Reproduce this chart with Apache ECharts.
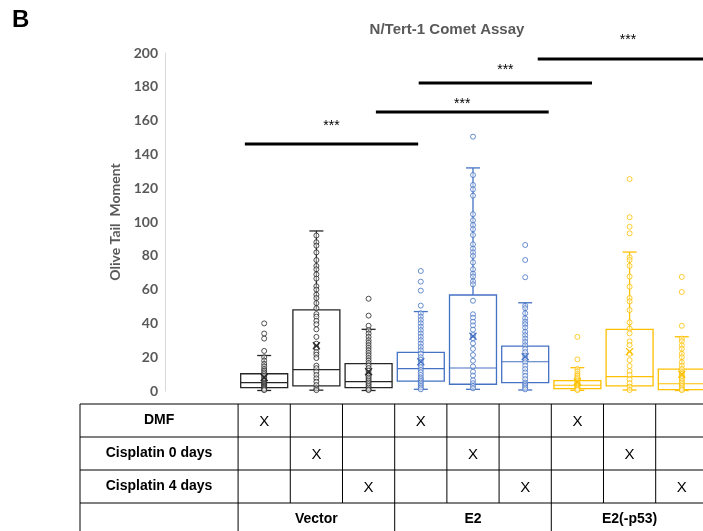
<!DOCTYPE html>
<html>
<head>
<meta charset="utf-8">
<script src="https://cdn.jsdelivr.net/npm/echarts@6/dist/echarts.min.js"></script>
<style>
html, body { margin: 0; padding: 0; background: #fff; }
#chart { width: 703px; height: 531px; }
</style>
</head>
<body>
<div id="chart"></div>
<script>
// one box per column of the table below
const groups = ['Vector', 'E2', 'E2(-p53)']
const treatments = ['DMF', 'Cisplatin 0 days', 'Cisplatin 4 days']
const boxGroup = [0, 0, 0, 1, 1, 1, 2, 2, 2]
const boxTreatment = [0, 1, 2, 0, 1, 2, 0, 1, 2]

const whiskerLow = [0.3, 0.5, 0.3, 1, 1, 0.6, 0.4, 0.6, 0.3]
const q1 = [2, 3, 2, 5.9, 4, 4.9, 1.4, 3, 0.8]
const median = [5, 12.6, 5.5, 13.2, 13.6, 17.3, 3.4, 8.5, 4.3]
const q3 = [10.2, 48, 16.2, 22.9, 56.8, 26.6, 6.1, 36.5, 13]
const whiskerHigh = [21, 94.7, 36.5, 47, 132, 52.2, 13.8, 82.2, 32.1]
const means = [8, 26.8, 11.4, 17.3, 32.4, 20.3, 5.5, 23.3, 9.9]

const ptsVectorDMF = [40, 34, 31, 23.7, 20, 18, 16, 14.5, 13, 12, 11, 10, 9, 8, 7, 6, 5, 4.5, 4, 3.5, 3, 2.5, 2, 1.5, 1, 0.5]
const ptsVectorCis0 = [92, 88, 86, 82, 77.5, 74, 72, 69, 66.5, 62, 60, 57, 55, 52, 49, 45.5, 44, 41.5, 39.5, 36.5, 32, 28, 25.5, 23, 21.5, 19.5, 15, 13.5, 11.5, 9.5, 7.5, 5.5, 3.5, 1.5, 0.5]
const ptsVectorCis4 = [54.6, 44.6, 38.6, 36, 34, 32, 30, 28.5, 27, 25.5, 24, 22.5, 21, 19.5, 18, 16.5, 15, 13.5, 12, 10.5, 9, 8, 7, 6, 5, 4, 3, 2, 1, 0.5]
const ptsE2DMF = [71, 64.7, 59.4, 50.5, 46, 44, 42, 40, 38, 36, 34, 32, 30, 28, 26, 24, 22, 20, 18.5, 17, 15.5, 14, 12.5, 11, 9.5, 8, 7, 6, 5, 4, 3, 2, 1]
const ptsE2Cis0 = [150.5, 127.8, 121.9, 119.3, 115.6, 104.6, 101, 98.2, 95.7, 92.3, 86.8, 84.2, 82, 79.9, 76.1, 72, 69.4, 67.7, 64.9, 63.1, 53.4, 45.4, 43.4, 41, 38.8, 36.3, 33.1, 31.2, 28.2, 24.9, 21.3, 17.9, 14.5, 11.4, 9.1, 6.3, 4.6, 3, 1.6]
const ptsE2Cis4 = [86.4, 77.5, 67.3, 50.5, 49, 46, 43, 41, 39.5, 37.5, 35, 33, 31, 29, 27, 25, 23, 21, 19, 17, 15, 13, 11, 9, 7, 5, 4, 3, 2, 1]
const ptsP53DMF = [32, 18.7, 13, 11.5, 10, 9, 8, 7, 6, 5, 4.5, 4, 3.5, 3, 2.5, 2, 1.5, 1, 0.5]
const ptsP53Cis0 = [125.4, 102.8, 97.2, 93.3, 79.1, 77.5, 74, 67.7, 61.7, 55, 53, 47.9, 40.6, 36.9, 34.1, 29.4, 27.2, 22, 18.3, 14.8, 11.8, 9.5, 6.9, 4.6, 2.5, 0.6]
const ptsP53Cis4 = [67.5, 58.6, 38.6, 31, 29.5, 27, 25, 22, 20, 17, 15, 13, 11, 10, 9, 8, 7, 6, 5, 4, 3, 2, 1, 0.5]
const allPoints = [ptsVectorDMF, ptsVectorCis0, ptsVectorCis4, ptsE2DMF, ptsE2Cis0, ptsE2Cis4, ptsP53DMF, ptsP53Cis0, ptsP53Cis4]

// significance bars (x in box positions, y in axis units)
const sigFrom = [0.63, 3.14, 3.96, 6.24]
const sigTo = [3.95, 6.45, 7.28, 9.7]
const sigLineY = [146.2, 165.1, 182.2, 196.4]
const sigStarY = [156.5, 169.5, 190, 207.5]
const sigLabel = '***'

const groupColors = ['#262626', '#4472C4', '#FFC000']

const chart = echarts.init(document.getElementById('chart'))

function renderBox(params, api) {
    const x = api.value(0)
    const color = groupColors[api.value(6)]
    const hw = api.size([1, 0])[0] * 0.45
    const cap = 7
    const lo = api.coord([x, api.value(1)])
    const b1 = api.coord([x, api.value(2)])
    const md = api.coord([x, api.value(3)])
    const b3 = api.coord([x, api.value(4)])
    const hi = api.coord([x, api.value(5)])
    const cx = lo[0]
    const ls = { stroke: color, lineWidth: 1.3 }
    return {
        type: 'group',
        children: [
            { type: 'line', shape: { x1: cx, y1: b3[1], x2: cx, y2: hi[1] }, style: ls },
            { type: 'line', shape: { x1: cx - cap, y1: hi[1], x2: cx + cap, y2: hi[1] }, style: ls },
            { type: 'line', shape: { x1: cx, y1: b1[1], x2: cx, y2: lo[1] }, style: ls },
            { type: 'line', shape: { x1: cx - cap, y1: lo[1], x2: cx + cap, y2: lo[1] }, style: ls },
            { type: 'rect', shape: { x: cx - hw, y: b3[1], width: hw * 2, height: b1[1] - b3[1] }, style: { stroke: color, lineWidth: 1.3, fill: 'none' } },
            { type: 'line', shape: { x1: cx - hw, y1: md[1], x2: cx + hw, y2: md[1] }, style: { stroke: color, lineWidth: 1.2 } }
        ]
    }
}

function renderMean(params, api) {
    const p = api.coord([api.value(0), api.value(1)])
    const color = groupColors[api.value(2)]
    const s = 3.5
    return {
        type: 'group',
        children: [
            { type: 'line', shape: { x1: p[0] - s, y1: p[1] - s, x2: p[0] + s, y2: p[1] + s }, style: { stroke: color, lineWidth: 1.3 } },
            { type: 'line', shape: { x1: p[0] - s, y1: p[1] + s, x2: p[0] + s, y2: p[1] - s }, style: { stroke: color, lineWidth: 1.3 } }
        ]
    }
}

function renderSig(params, api) {
    const a = api.coord([api.value(0), api.value(2)])
    const b = api.coord([api.value(1), api.value(2)])
    const t = api.coord([(api.value(0) + api.value(1)) / 2, api.value(3)])
    return {
        type: 'group',
        children: [
            { type: 'line', shape: { x1: a[0], y1: a[1], x2: b[0], y2: b[1] }, style: { stroke: '#000', lineWidth: 3 } },
            { type: 'text', style: { text: sigLabel, x: t[0], y: t[1], align: 'center', verticalAlign: 'middle', font: '14px "Liberation Sans", Arial', fill: '#000' } }
        ]
    }
}

const boxData = q1.map((v, i) => [i + 1, whiskerLow[i], v, median[i], q3[i], whiskerHigh[i], boxGroup[i]])
const meanData = means.map((v, i) => [i + 1, v, boxGroup[i]])
const sigData = sigFrom.map((v, i) => [v, sigTo[i], sigLineY[i], sigStarY[i]])

const scatterSeries = allPoints.map((pts, i) => ({
    type: 'scatter',
    z: 3,
    symbol: 'circle',
    symbolSize: 5,
    itemStyle: { color: 'rgba(255,255,255,0.6)', borderColor: groupColors[boxGroup[i]], borderWidth: 1 },
    data: pts.map(v => [i + 1, v])
}))

const option = {
    animation: false,
    title: {
        text: 'N/Tert-1 Comet Assay',
        left: 442,
        top: 17,
        textAlign: 'center',
        textStyle: { color: '#595959', fontSize: 15, fontWeight: 'bold', fontFamily: '"Liberation Sans", Arial' }
    },
    grid: { left: 165, top: 53, height: 338, width: 569, containLabel: false, outerBoundsMode: 'none' },
    xAxis: { type: 'value', min: -0.9, max: 10, show: false },
    yAxis: {
        type: 'value',
        min: 0,
        max: 200,
        interval: 20,
        name: 'Olive Tail  Moment',
        nameLocation: 'middle',
        nameGap: 40,
        nameTextStyle: { color: '#595959', fontSize: 14, fontWeight: 'bold', fontFamily: 'Lato' },
        axisLine: { show: true, onZero: false, lineStyle: { color: '#d9d9d9', width: 1 } },
        axisTick: { show: false },
        splitLine: { show: false },
        axisLabel: { margin: 7, color: '#595959', fontSize: 14, fontWeight: 'bold', fontFamily: 'Lato' }
    },
    series: [
        { type: 'custom', z: 2, renderItem: renderBox, data: boxData },
        ...scatterSeries,
        { type: 'custom', z: 4, renderItem: renderMean, data: meanData },
        { type: 'custom', z: 5, clip: false, renderItem: renderSig, data: sigData }
    ]
}

chart.setOption(option)

// table under the plot, columns follow the x axis
const xAt = v => chart.convertToPixel({ xAxisIndex: 0 }, v)
const tableLeft = 80
const tableRight = 720
const labelRight = xAt(0.5)
const rowY = [404, 437, 470, 503, 545]
const lineStyle = { stroke: '#000', lineWidth: 1 }
const graphics = []
const hline = (x1, x2, y) => graphics.push({ type: 'line', shape: { x1, y1: y, x2, y2: y }, style: lineStyle })
const vline = (x, y1, y2) => graphics.push({ type: 'line', shape: { x1: x, y1, x2: x, y2 }, style: lineStyle })
const label = (text, x, y, font) => graphics.push({ type: 'text', style: { text, x, y, align: 'center', verticalAlign: 'middle', font, fill: '#000' } })

rowY.slice(0, 4).forEach(y => hline(tableLeft, tableRight, y))
vline(tableLeft, rowY[0], rowY[4])
vline(labelRight, rowY[0], rowY[4])
for (let i = 1; i <= 9; i++) vline(xAt(i + 0.5), rowY[0], rowY[3])
for (let g = 1; g <= 3; g++) vline(xAt(g * 3 + 0.5), rowY[3], rowY[4])

const labelX = (tableLeft + labelRight) / 2
treatments.forEach((t, r) => label(t, labelX, (rowY[r] + rowY[r + 1]) / 2, 'bold 14px "Liberation Sans", Arial'))
boxTreatment.forEach((r, i) => label('X', xAt(i + 1), (rowY[r] + rowY[r + 1]) / 2 + 1, '15px "Liberation Sans", Arial'))
groups.forEach((g, k) => label(g, xAt(k * 3 + 2), 519, 'bold 14px "Liberation Sans", Arial'))

graphics.push({ type: 'text', style: { text: 'B', x: 12, y: 8, font: 'bold 24px "Liberation Sans", Arial', fill: '#000' } })

chart.setOption({ graphic: graphics })
</script>
</body>
</html>
